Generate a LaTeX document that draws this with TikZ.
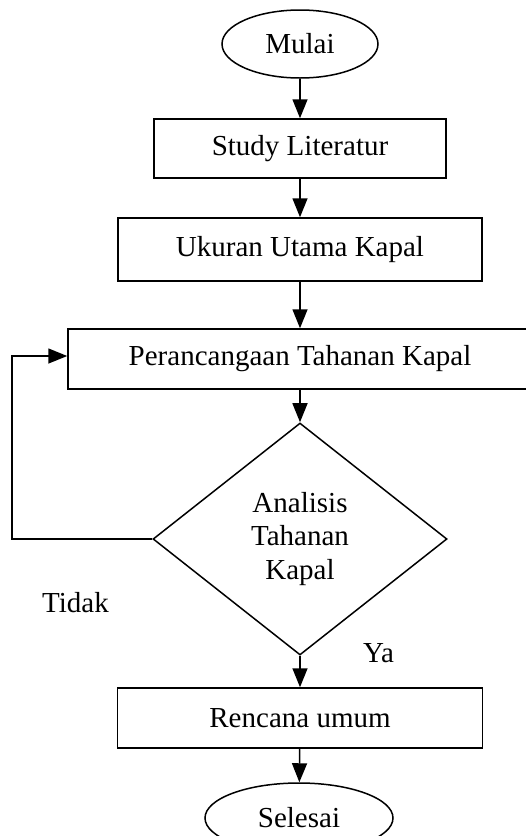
\documentclass[tikz,border=0pt]{standalone}
\usepackage{fontspec}
\setmainfont{Liberation Serif}
\usetikzlibrary{shapes.geometric,arrows.meta}
\begin{document}
\begin{tikzpicture}[x=1pt,y=-1pt,
  every node/.style={font=\fontsize{29}{33.5}\selectfont, inner sep=0pt},
  procbox/.style={draw, line width=1.5pt, rectangle},
  termnode/.style={draw, line width=1.5pt, ellipse},
  decnode/.style={draw, line width=1.5pt, diamond, align=center},
  flow/.style={line width=1.5pt, -{Triangle[length=19pt,width=15pt]}},
  lbl/.style={anchor=base west}]
\useasboundingbox (0,0) rectangle (526,836);
\node[termnode, minimum width=156pt, minimum height=68pt] (mulai) at (300,44) {Mulai};
\node[procbox, minimum width=292pt, minimum height=59pt] (study) at (300,148.5) {Study Literatur};
\node[procbox, minimum width=364pt, minimum height=63pt] (ukuran) at (300,249.5) {Ukuran Utama Kapal};
\node[procbox, minimum width=464pt, minimum height=60pt] (per) at (300,359) {Perancangaan Tahanan Kapal};
\node[decnode, minimum width=294pt, minimum height=232pt] (dia) at (300,539) {Analisis\\Tahanan\\Kapal};
\node[procbox, minimum width=365pt, minimum height=60pt] (ren) at (300,718) {Rencana umum};
\node[termnode, minimum width=188pt, minimum height=70pt] (sel) at (299,818) {Selesai};
\coordinate (loopc) at (12,0);
\draw[flow] (mulai) -- (study);
\draw[flow] (study) -- (ukuran);
\draw[flow] (ukuran) -- (per);
\draw[flow] (per) -- (dia);
\draw[flow] (dia) -- (ren);
\draw[flow] (ren) -- (sel);
\draw[flow] (dia.west) -- (dia.west -| loopc) |- ([yshift=3pt]per.west);
\node[lbl] (tidak) at (42,612) {Tidak};
\node[lbl] (ya) at (363,662) {Ya};
\end{tikzpicture}
\end{document}
